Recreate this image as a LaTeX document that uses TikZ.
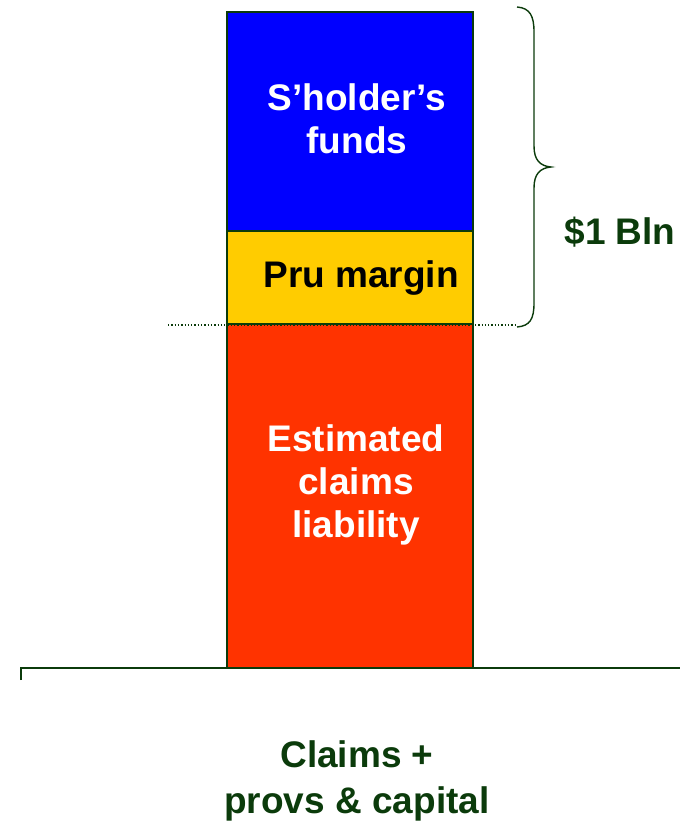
\documentclass[tikz,border=0pt]{standalone}
\usepackage{fontspec}
\setmainfont{Liberation Sans}
\definecolor{dkgreen}{HTML}{0B3B0B}
\definecolor{barblue}{HTML}{0000FF}
\definecolor{baryellow}{HTML}{FFCC00}
\definecolor{barred}{HTML}{FF3300}
\tikzset{
  barbox/.style={draw=dkgreen, line width=1.2pt},
  lbl/.style={font=\fontsize{37}{43}\selectfont\bfseries, align=center, inner sep=0pt},
  lblb/.style={font=\fontsize{37}{46}\selectfont\bfseries, align=center, inner sep=0pt},
  greenline/.style={draw=dkgreen, line width=1.4pt},
  dotline/.style={draw=dkgreen, dotted, line width=1.3pt}
}
\begin{document}
\begin{tikzpicture}[x=1pt,y=-1pt]
\useasboundingbox (0,0) rectangle (680,821);
% bars
\fill[barblue] (227,12) rectangle (473,231);
\fill[baryellow] (227,231) rectangle (473,324);
\fill[barred] (227,324) rectangle (473,668);
\draw[barbox] (227,12) rectangle (473,231);
\draw[barbox] (227,231) rectangle (473,324);
\draw[barbox] (227,324) rectangle (473,668);
% dotted line
\draw[dotline] (168,325) -- (517,325);
% axis
\coordinate (axL) at (21,680);
\coordinate (axC) at (21,668);
\coordinate (axR) at (680,668);
\draw[greenline] (axL) -- (axC) -- (axR);
% brace
\draw[dkgreen, line width=1.4pt] (517,7) .. controls (530,8) and (534,16) .. (534,32)
  -- (534,146) .. controls (534,160) and (540,166) .. (551,167)
  .. controls (540,168) and (534,174) .. (534,188)
  -- (534,303) .. controls (534,319) and (530,326) .. (517,327);
% labels
\node[lbl, text=white] (sh) at (357,119) {S’holder’s\\funds};
\node[lbl, text=black] (pru) at (361,278) {Pru margin};
\node[lbl, text=white] (est) at (356,485) {Estimated\\claims\\liability};
\node[lbl, text=dkgreen] (bln) at (620,232) {\$1 Bln};
\node[lblb, text=dkgreen] (cap) at (357,781) {Claims +\\provs \& capital};
\end{tikzpicture}
\end{document}
